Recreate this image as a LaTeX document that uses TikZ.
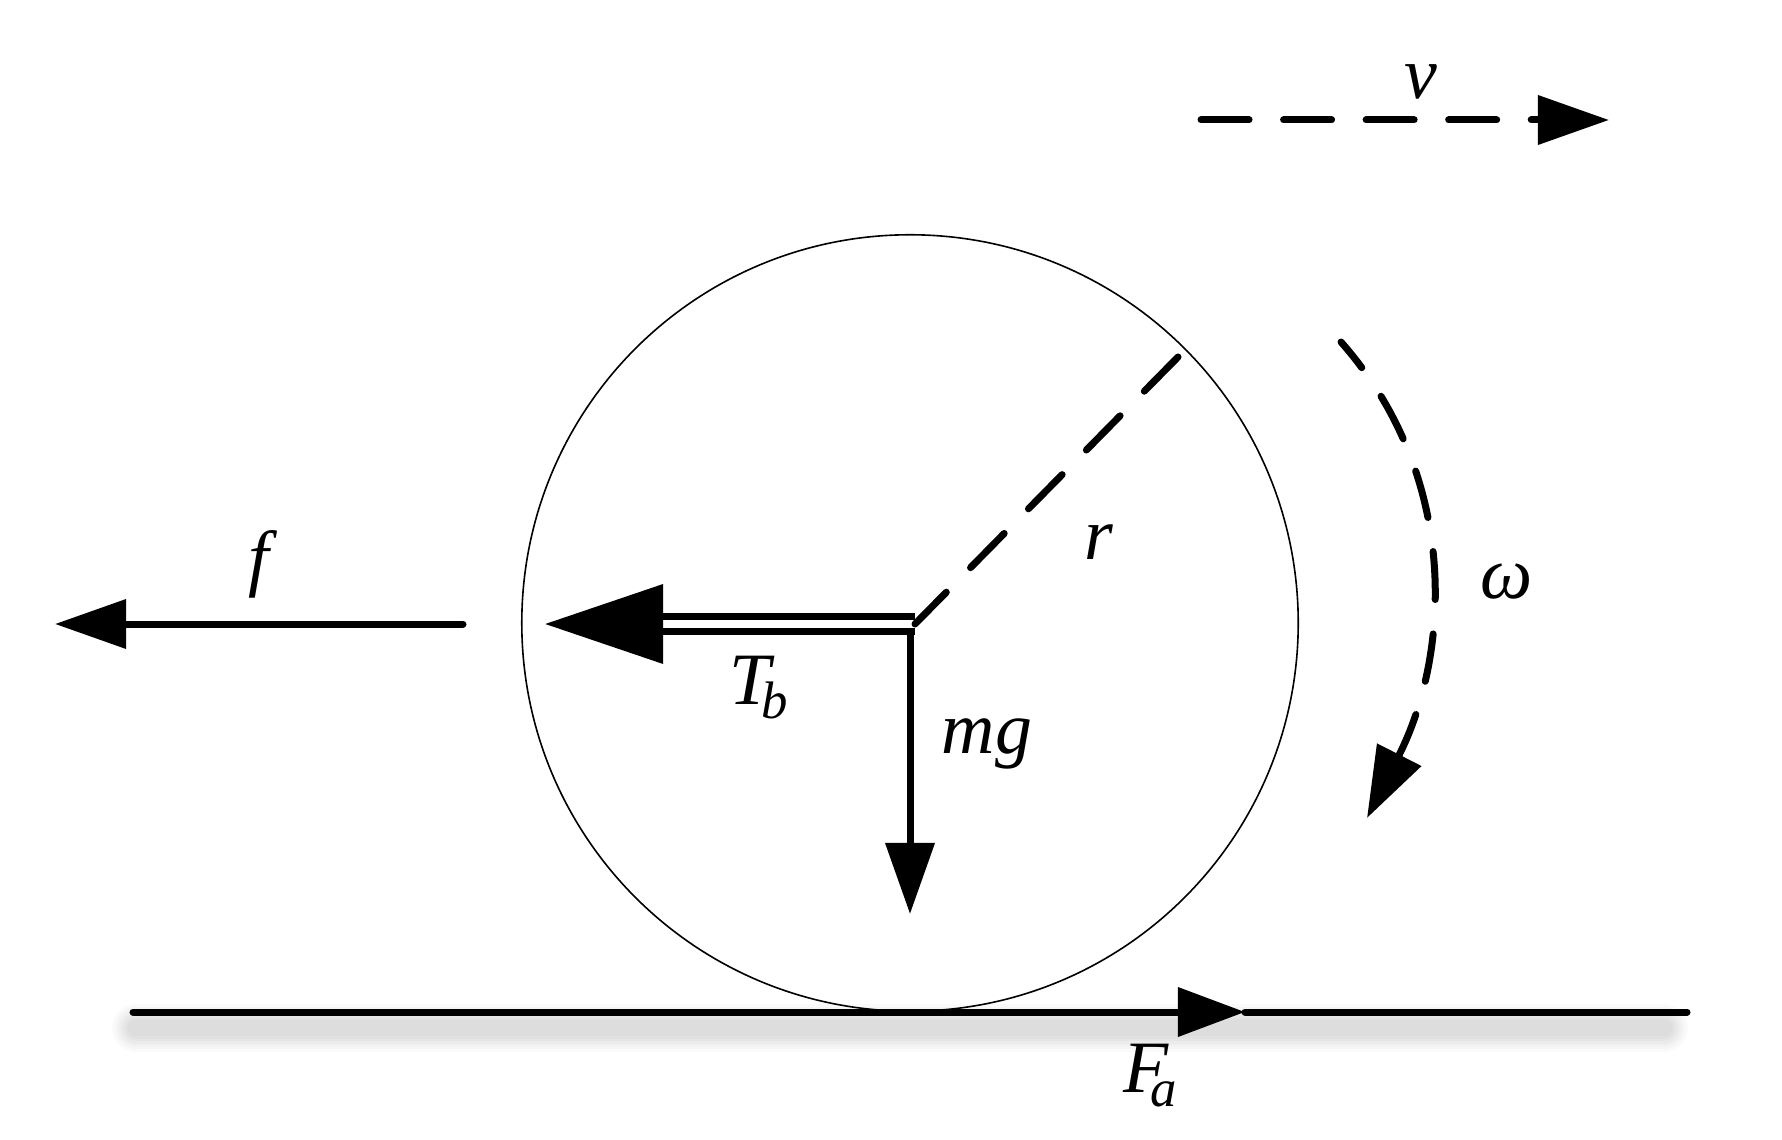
\documentclass[tikz,border=0pt]{standalone}
\usepackage{fontspec}
\setmainfont{Liberation Serif}
\usetikzlibrary{arrows.meta}
\newcommand{\subtext}[1]{\raisebox{-.2em}{\fontsize{15}{15}\selectfont #1}}
\tikzset{
  force/.style={line width=.07cm, line cap=round},
  headsmall/.style={-{Triangle[length=.71cm,width=.48cm]}},
  dashline/.style={force, dash pattern=on .48cm off .345cm},
  symbol/.style={anchor=base, inner sep=0pt, font=\fontsize{21}{25}\selectfont\itshape}
}
\begin{document}
\begin{tikzpicture}[x=.01cm,y=-.01cm]
      \useasboundingbox (0,0) rectangle (1782,1140);
      \foreach \w in {48,42,36,31,26,21,16}
        \draw[line width=\w*.01cm, line cap=round, black, opacity=.018] (136,1028) -- (1664,1028);
      \node (wheel) [circle, draw, line width=.016cm, inner sep=0pt, minimum size=7.76cm] at (910,623) {};
      \coordinate (hub) at (915,624);
      \coordinate (axle) at (910,631);
      \coordinate (rim) at (1178,357);
      \coordinate (fstart) at (463,624);
      \coordinate (ftip) at (55,624);
      \coordinate (tbtip) at (545,624);
      \coordinate (mgtip) at (910,914);
      \coordinate (gndleft) at (133,1012);
      \coordinate (gndright) at (1687,1012);
      \coordinate (fatip) at (1245,1012);
      \coordinate (vstart) at (1201,120);
      \coordinate (vtip) at (1609,120);
      \coordinate (wstart) at (1341,342);
      \coordinate (wtip) at (1367,818);
      \begin{scope}[force]
        \draw[headsmall] (fstart) to (ftip);
        \draw[-{Triangle[length=1.18cm,width=.78cm]}, line cap=butt, double, double distance=.08cm] (hub) to (tbtip);
        \draw[headsmall, line cap=butt] (axle) to (mgtip);
        \draw[-{Triangle[length=.67cm,width=.48cm]}] (gndleft) to (fatip);
        \draw (fatip) to (gndright);
      \end{scope}
      \draw[dashline] (rim) to (hub);
      \draw[dashline, headsmall] (vstart) to (vtip);
      \draw[dashline, dash phase=.15cm, headsmall] (wstart) .. controls (1461,478) and (1450,655) .. (wtip);
      \node (f) [symbol] at (259,582) {f};
      \node (tb) [symbol] at (759,704) {T\kern-.12em\subtext{b}};
      \node (mg) [symbol] at (987,753) {mg};
      \node (r) [symbol] at (1099,559) {r};
      \node (v) [symbol] at (1421,99) {v};
      \node (w) [symbol] at (1507,598) {ω};
      \node (fa) [symbol] at (1150,1092) {F\kern-.24em\subtext{a}};
    \end{tikzpicture}
\end{document}
